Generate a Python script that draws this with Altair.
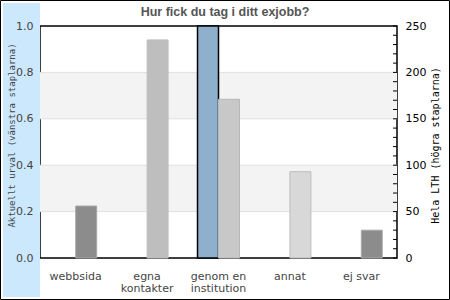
import altair as alt
import pandas as pd

title_text = "Hur fick du tag i ditt exjobb?"
categories = ["webbsida", "egna kontakter", "genom en institution", "annat", "ej svar"]
left_values = [0.0, 0.0, 1.0, 0.0, 0.0]      # Aktuellt urval (0..1)
right_values = [56, 235, 171, 93, 30]        # Hela LTH (antal)
right_fill = ["#8c8c8c", "#bebebe", "#c8c8c8", "#d8d8d8", "#8c8c8c"]
right_stroke = ["#a8a8a8", "#bebebe", "#b8b8b8", "#bdbdbd", "#acacac"]
left_ticks = [0.0, 0.2, 0.4, 0.6, 0.8, 1.0]
grid_values = [0.2, 0.4, 0.6, 0.8]
stripe_lo = [0.2, 0.6]
stripe_hi = [0.4, 0.8]
right_labels = [0, 50, 100, 150, 200, 250]
right_minor = [0, 10, 20, 30, 40, 50, 60, 70, 80, 90, 100, 110, 120, 130, 140,
               150, 160, 170, 180, 190, 200, 210, 220, 230, 240, 250]

W, H = 357, 232

left_df = pd.DataFrame({"cat": categories, "val": left_values, "side": "L"})
left_df = left_df[left_df["val"] > 0]
right_df = pd.DataFrame({"cat": categories, "val": right_values, "side": "R"})
stripes_df = pd.DataFrame({"lo": stripe_lo, "hi": stripe_hi})
grid_df = pd.DataFrame({"g": grid_values})
minor_df = pd.DataFrame({"t": right_minor})
one = pd.DataFrame({"a": [0]})

label_expr = ("datum.label == 'egna kontakter' ? ['egna', 'kontakter'] : "
              "datum.label == 'genom en institution' ? ['genom en', 'institution'] : datum.label")

x_enc = alt.X(
    "cat:N", sort=categories,
    scale=alt.Scale(domain=categories, paddingInner=0.412, paddingOuter=0.206),
    axis=alt.Axis(title=None, labelAngle=0, ticks=False, domain=False, grid=False,
                  labelExpr=label_expr, labelFont="DejaVu Sans", labelFontSize=11,
                  labelColor="#444444", labelPadding=12, labelLineHeight=12, zindex=1),
)
xo_enc = alt.XOffset("side:N", scale=alt.Scale(domain=["L", "R"], paddingInner=0, paddingOuter=0))

left_scale = alt.Scale(domain=[0, 1], nice=False, zero=True)
right_scale = alt.Scale(domain=[0, 250], nice=False, zero=True)

bg = alt.Chart(one).mark_rect(color="#cce8fd").encode(
    x=alt.value(-37), x2=alt.value(0), y=alt.value(-23), y2=alt.value(271))

frame = alt.Chart(one).mark_rect(fill=None, stroke="black", strokeWidth=1).encode(
    x=alt.value(-39.5), x2=alt.value(409.5), y=alt.value(-25.5), y2=alt.value(273.5))

title = alt.Chart(one).mark_text(
    font="Liberation Sans", fontSize=12.5, fontWeight="bold", color="#555555",
    align="center", baseline="alphabetic").encode(
    x=alt.value(185), y=alt.value(-10), text=alt.value(title_text))

stripes = alt.Chart(stripes_df).mark_rect(color="#f3f3f3").encode(
    x=alt.value(0), x2=alt.value(W),
    y=alt.Y("lo:Q", scale=left_scale, axis=None), y2="hi:Q")

grid = alt.Chart(grid_df).mark_rule(color="#e0e0e0", strokeWidth=1).encode(
    x=alt.value(0), x2=alt.value(W),
    y=alt.Y("g:Q", scale=left_scale, axis=None))

left_bars = alt.Chart(left_df).mark_bar(color="#8fb0cc", stroke="black", strokeWidth=1.5).encode(
    x=x_enc, xOffset=xo_enc,
    y=alt.Y("val:Q", scale=left_scale,
            axis=alt.Axis(orient="left", values=left_ticks, format=".1f", grid=False,
                          ticks=False, domain=False, labelFont="DejaVu Sans",
                          labelFontSize=11, labelColor="#444444", labelPadding=7,
                          title="Aktuellt urval (vänstra staplarna)",
                          titleFont="DejaVu Sans Mono", titleFontSize=9,
                          titleFontWeight="normal", titleColor="#444444",
                          titleAngle=270, titleX=-29, titleY=109,
                          titleAlign="center", titleBaseline="middle", zindex=1)))

right_bars = alt.Chart(right_df).mark_bar(strokeWidth=1).encode(
    x=x_enc, xOffset=xo_enc,
    y=alt.Y("val:Q", scale=right_scale,
            axis=alt.Axis(orient="right", values=right_labels, grid=False,
                          ticks=False, domain=False, labelFont="DejaVu Sans",
                          labelFontSize=11, labelColor="black", labelPadding=8,
                          title="Hela LTH (högra staplarna)",
                          titleFont="DejaVu Sans Mono", titleFontSize=10,
                          titleFontWeight="normal", titleColor="black",
                          titleAngle=270, titleX=38, titleY=119,
                          titleAlign="center", titleBaseline="middle", zindex=1)),
    color=alt.Color("cat:N", scale=alt.Scale(domain=categories, range=right_fill), legend=None),
    stroke=alt.Stroke("cat:N", scale=alt.Scale(domain=categories, range=right_stroke), legend=None),
)

minor = alt.Chart(minor_df).mark_rule(color="black", strokeWidth=1).encode(
    x=alt.value(W - 4), x2=alt.value(W),
    y=alt.Y("t:Q", scale=right_scale, axis=None))

chart = alt.layer(bg, frame, title, stripes, grid, left_bars, right_bars, minor).resolve_scale(
    y="independent", color="independent", stroke="independent"
).properties(
    width=W, height=H,
    autosize=alt.AutoSizeParams(type="none"),
    padding={"left": 40, "top": 26, "right": 53, "bottom": 42},
    background="white",
).configure_view(stroke="black", strokeWidth=1.5)

chart.save("out.html", embed_options={"renderer": "svg", "actions": False})
